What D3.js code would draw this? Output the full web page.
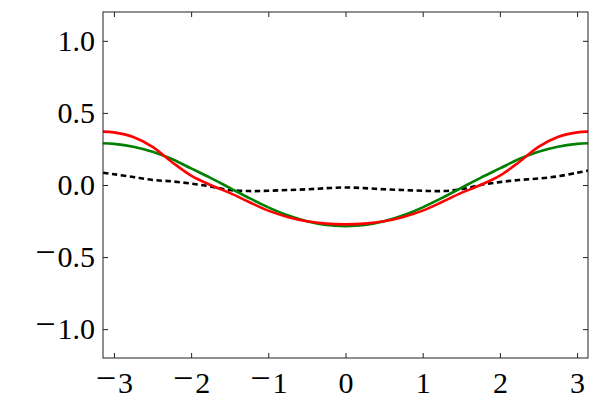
<!DOCTYPE html>
<html>
<head>
<meta charset="utf-8">
<script src="https://cdn.jsdelivr.net/npm/d3@7"></script>
<style>
  body { margin: 0; background: #fff; }
  svg text { font-family: "Liberation Serif", serif; }
</style>
</head>
<body>
<svg id="chart" width="600" height="400"></svg>
<script>
var xVals = [-3.1416, -3.0, -2.75, -2.5, -2.25, -2.0, -1.75, -1.5, -1.25, -1.0, -0.75, -0.5, -0.25,
             0, 0.25, 0.5, 0.75, 1.0, 1.25, 1.5, 1.75, 2.0, 2.25, 2.5, 2.75, 3.0, 3.1416];
var redVals = [0.37, 0.365, 0.333, 0.265, 0.16, 0.065, 0.0, -0.055, -0.118, -0.178, -0.222, -0.252, -0.268,
               -0.273, -0.268, -0.252, -0.222, -0.178, -0.118, -0.055, 0.0, 0.065, 0.16, 0.265, 0.333, 0.365, 0.37];
var greenVals = [0.29, 0.285, 0.265, 0.23, 0.18, 0.115, 0.05, -0.02, -0.09, -0.155, -0.21, -0.252, -0.278,
                 -0.285, -0.278, -0.252, -0.21, -0.155, -0.09, -0.02, 0.05, 0.115, 0.18, 0.23, 0.265, 0.285, 0.29];
var blackVals = [0.085, 0.075, 0.055, 0.035, 0.025, 0.01, -0.01, -0.035, -0.042, -0.04, -0.035, -0.03, -0.022,
                 -0.017, -0.022, -0.03, -0.035, -0.04, -0.042, -0.03, 0.0, 0.02, 0.035, 0.045, 0.06, 0.085, 0.1];
var xTicks = [-3, -2, -1, 0, 1, 2, 3];
var yTicks = [-1.0, -0.5, 0.0, 0.5, 1.0];

var margin = {top: 12, right: 12, bottom: 42, left: 103};
var width = 600, height = 400;
var svg = d3.select("#chart");

var xScale = d3.scaleLinear()
  .domain([-Math.PI, Math.PI])
  .range([margin.left, width - margin.right]);
var yScale = d3.scaleLinear()
  .domain([-1.2, 1.2])
  .range([height - margin.bottom, margin.top]);

function fmtX(d) { return d < 0 ? "\u2212" + Math.abs(d) : "" + d; }
function fmtY(d) { return d < 0 ? "\u2212" + Math.abs(d).toFixed(1) : d.toFixed(1); }

var line = d3.line()
  .x(function(d) { return xScale(d[0]); })
  .y(function(d) { return yScale(d[1]); })
  .curve(d3.curveCatmullRom);

var series = [
  {vals: redVals, color: "#ff0000", dash: null},
  {vals: greenVals, color: "#008000", dash: null},
  {vals: blackVals, color: "#000000", dash: "5.5,3.5"}
];

svg.append("defs").append("clipPath").attr("id", "clip")
  .append("rect")
  .attr("x", margin.left).attr("y", margin.top)
  .attr("width", width - margin.left - margin.right)
  .attr("height", height - margin.top - margin.bottom);

var plot = svg.append("g").attr("clip-path", "url(#clip)");
series.slice().reverse().forEach(function(s) {
  plot.append("path")
    .datum(d3.zip(xVals, s.vals))
    .attr("fill", "none")
    .attr("stroke", s.color)
    .attr("stroke-width", 2.6)
    .attr("stroke-dasharray", s.dash)
    .attr("d", line);
});

var axisColor = "#222";
var gBottom = svg.append("g")
  .attr("transform", "translate(0," + (height - margin.bottom) + ")")
  .call(d3.axisBottom(xScale).tickValues(xTicks).tickFormat(fmtX)
        .tickSizeInner(-5).tickSizeOuter(0).tickPadding(14));
var gLeft = svg.append("g")
  .attr("transform", "translate(" + margin.left + ",0)")
  .call(d3.axisLeft(yScale).tickValues(yTicks).tickFormat(fmtY)
        .tickSizeInner(-5).tickSizeOuter(0).tickPadding(8));
var gTop = svg.append("g")
  .attr("transform", "translate(0," + margin.top + ")")
  .call(d3.axisTop(xScale).tickValues(xTicks).tickFormat("")
        .tickSizeInner(-5).tickSizeOuter(0));
var gRight = svg.append("g")
  .attr("transform", "translate(" + (width - margin.right) + ",0)")
  .call(d3.axisRight(yScale).tickValues(yTicks).tickFormat("")
        .tickSizeInner(-5).tickSizeOuter(0));

[gBottom, gLeft, gTop, gRight].forEach(function(g) {
  g.select(".domain").remove();
  g.selectAll("line").attr("stroke", axisColor);
  g.selectAll("text")
    .attr("fill", "#000")
    .style("font-family", "'Liberation Serif', serif")
    .style("font-size", "30px")
    .each(function() {
      var t = d3.select(this);
      var s = t.text();
      if (s.charAt(0) === "\u2212") {
        t.text(null);
        t.append("tspan").style("font-size", "36px").style("baseline-shift", "3px").text("\u2212");
        t.append("tspan").attr("dx", 2).text(s.slice(1));
      }
    });
});

svg.append("rect")
  .attr("x", margin.left).attr("y", margin.top)
  .attr("width", width - margin.left - margin.right)
  .attr("height", height - margin.top - margin.bottom)
  .attr("fill", "none")
  .attr("stroke", axisColor)
  .attr("stroke-width", 1);
</script>
</body>
</html>
